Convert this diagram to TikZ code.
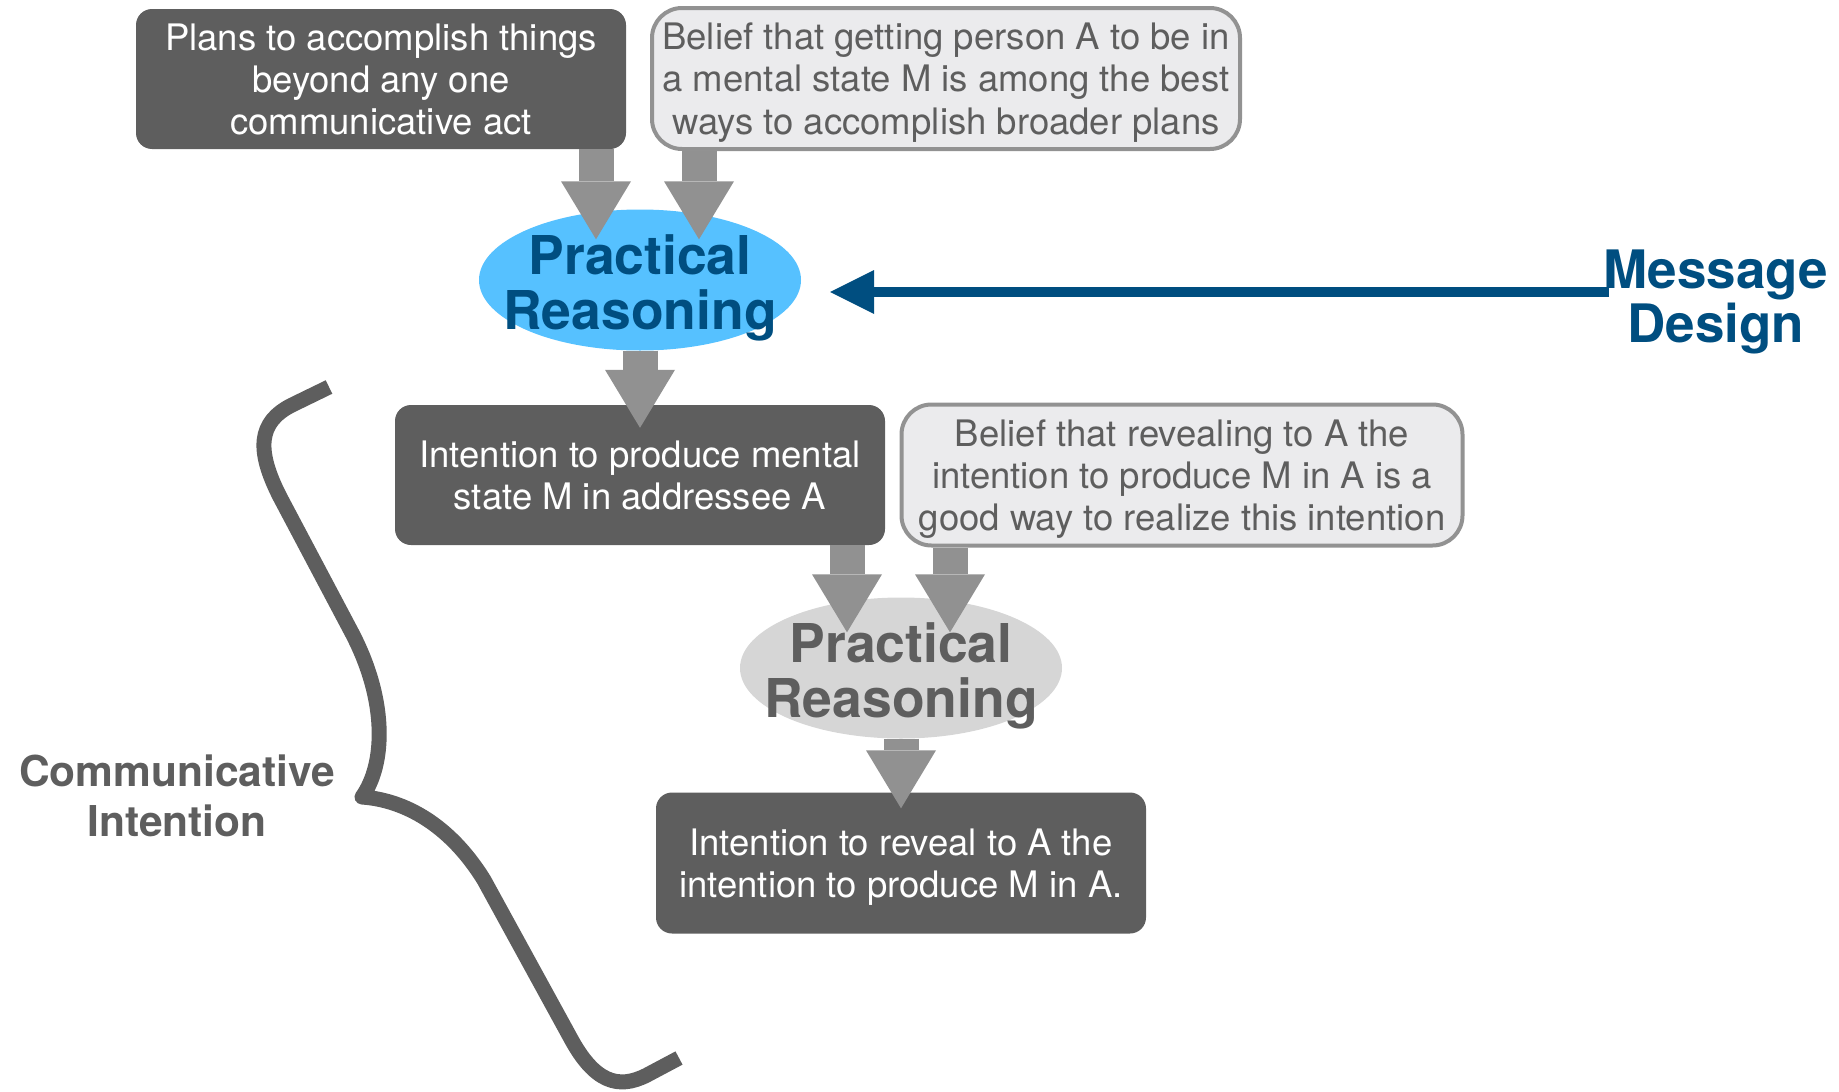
\documentclass[tikz,border=0pt]{standalone}
\usepackage{fontspec}
\setmainfont{TeX Gyre Heros}
\usetikzlibrary{arrows.meta,shapes.geometric}
\definecolor{darkbox}{HTML}{5E5E5E}
\definecolor{lightfill}{HTML}{EBEBED}
\definecolor{lightborder}{HTML}{929292}
\definecolor{arrowgray}{HTML}{919191}
\definecolor{skyblue}{HTML}{56C1FF}
\definecolor{oceanblue}{HTML}{004E80}
\definecolor{ellgray}{HTML}{D6D6D6}
\begin{document}
\begin{tikzpicture}[x=1pt,y=-1pt,
  boxfont/.style={font=\fontsize{36.5}{42.2}\selectfont, text depth=0pt},
  darknode/.style={rectangle, rounded corners=16pt, fill=darkbox, text=white, align=center, inner sep=0pt, boxfont},
  lightnode/.style={rectangle, rounded corners=30pt, fill=lightfill, draw=lightborder, line width=4pt, text=darkbox, align=center, inner sep=0pt, boxfont},
  prell/.style={ellipse, minimum width=322pt, minimum height=141pt, inner sep=0pt},
  prtext/.style={align=center, inner sep=0pt, yshift=-8pt, font=\fontsize{53.5}{54.5}\selectfont\bfseries},
  fatarrow/.style={draw=arrowgray, line width=35pt, -{Triangle[length=58pt,width=70pt,line width=0pt]}},
  msgarrow/.style={draw=oceanblue, line width=10pt, -{Triangle[length=44pt,width=44pt,line width=0pt]}},
  bracestroke/.style={draw=darkbox, line width=15pt, line cap=butt, line join=round},
]
\useasboundingbox (0,0) rectangle (1839,1092);

% boxes
\node[darknode, minimum width=490pt, minimum height=140pt] (plans) at (381,79)
  {Plans to accomplish things\\beyond any one\\communicative act};
\node[lightnode, minimum width=588pt, minimum height=141pt] (belief1) at (946,78.5)
  {Belief that getting person A to be in\\a mental state M is among the best\\ways to accomplish broader plans};
\node[prell, fill=skyblue, label={[prtext, text=oceanblue]center:{Practical\\Reasoning}}] (pr1) at (640,280) {};
\node[darknode, minimum width=490pt, minimum height=140pt] (intent1) at (640,475)
  {Intention to produce mental\\state M in addressee A};
\node[lightnode, minimum width=561pt, minimum height=141pt] (belief2) at (1182,475)
  {Belief that revealing to A the\\intention to produce M in A is a\\good way to realize this intention};
\node[prell, fill=ellgray, label={[prtext, text=darkbox]center:{Practical\\Reasoning}}] (pr2) at (901,668) {};
\node[darknode, minimum width=490pt, minimum height=141pt] (intent2) at (901,863)
  {Intention to reveal to A the\\intention to produce M in A.};

% labels
\node[align=center, inner sep=0pt, text=oceanblue, font=\fontsize{53}{54}\selectfont\bfseries] (md) at (1716,302) {Message\\Design};
\node[align=center, inner sep=0pt, text=darkbox, font=\fontsize{42.5}{50}\selectfont\bfseries] (comm) at (177,796) {Communicative\\Intention};

% fat arrows
\draw[fatarrow] ([xshift=215pt]plans.south) -- ([xshift=-44pt,yshift=-30pt]pr1.north);
\draw[fatarrow] ([xshift=-247pt]belief1.south) -- ([xshift=59pt,yshift=-30pt]pr1.north);
\draw[fatarrow] (pr1.south) -- ([yshift=-23pt]intent1.north);
\draw[fatarrow] ([xshift=207pt]intent1.south) -- ([xshift=-54pt,yshift=-35pt]pr2.north);
\draw[fatarrow] ([xshift=-232pt]belief2.south) -- ([xshift=49pt,yshift=-35pt]pr2.north);
\draw[fatarrow] (pr2.south) -- ([yshift=-16pt]intent2.north);

% message design arrow
\coordinate (mdstart) at (1609,292);
\draw[msgarrow] (mdstart) -- ([xshift=29pt,yshift=-12pt]pr1.east);

% brace
\draw[bracestroke] (329,387) -- (292,405) .. controls (258,422) and (256,450) .. (280,497)
  -- (352,633) .. controls (388,702) and (385,765) .. (362,797)
  .. controls (405,800) and (450,825) .. (484,880)
  -- (570,1037) .. controls (594,1082) and (618,1090) .. (647,1075) -- (679,1058);
\end{tikzpicture}
\end{document}
